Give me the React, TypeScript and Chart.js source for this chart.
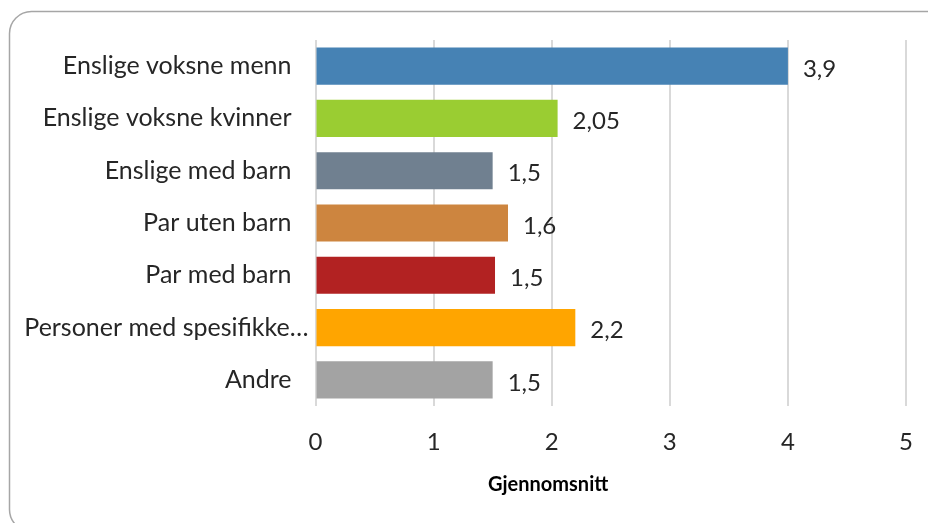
import React, { useEffect, useRef } from "react";
import { Chart, registerables } from "chart.js";

Chart.register(...registerables);

const categories = [
  "Enslige voksne menn",
  "Enslige voksne kvinner",
  "Enslige med barn",
  "Par uten barn",
  "Par med barn",
  "Personer med spesifikke…",
  "Andre",
];
const values = [4.0, 2.05, 1.5, 1.63, 1.52, 2.2, 1.5];
const valueLabels = ["3,9", "2,05", "1,5", "1,6", "1,5", "2,2", "1,5"];
const barColors = ["#4682B4", "#9ACD32", "#708090", "#CD853F", "#B22222", "#FFA500", "#A3A3A3"];
const xTicks = [0, 1, 2, 3, 4, 5];
const axisTitle = "Gjennomsnitt";

const FONT = "Lato, 'Open Sans', sans-serif";

export default function App() {
  const ref = useRef<HTMLCanvasElement | null>(null);
  useEffect(() => {
    document.body.style.margin = "0";
    const canvas = ref.current!;
    const framePlugin = {
      id: "frame",
      beforeDraw(chart: any) {
        const ctx = chart.ctx;
        ctx.save();
        ctx.fillStyle = "#ffffff";
        ctx.fillRect(0, 0, chart.width, chart.height);
        ctx.strokeStyle = "#a6a6a6";
        ctx.lineWidth = 1.5;
        ctx.beginPath();
        (ctx as any).roundRect(9.5, 11.5, 940, 520, 22);
        ctx.stroke();
        ctx.restore();
      },
    };
    const labelPlugin = {
      id: "valueLabels",
      afterDatasetsDraw(chart: any) {
        const ctx = chart.ctx;
        const meta = chart.getDatasetMeta(0);
        const area = chart.chartArea;
        const yScale = chart.scales.y;
        ctx.save();
        // category labels (truncated labels overhang slightly, as in the original)
        ctx.font = `25px ${FONT}`;
        ctx.fillStyle = "#262626";
        ctx.textAlign = "right";
        ctx.textBaseline = "middle";
        categories.forEach((c, i) => {
          const y = yScale.getPixelForTick(i);
          const x = c.endsWith("…") ? area.left - 7 : area.left - 24;
          ctx.fillText(c, x, y);
        });
        // value labels
        ctx.font = `24px ${FONT}`;
        ctx.textAlign = "left";
        meta.data.forEach((bar: any, i: number) => {
          ctx.fillText(valueLabels[i], bar.x + 15, bar.y + 3);
        });
        // axis title (offset to the left of the plot-area centre, as in the original)
        ctx.font = `bold 20px ${FONT}`;
        ctx.fillStyle = "#000000";
        ctx.textAlign = "center";
        ctx.fillText(axisTitle, area.left + (area.right - area.left) * 0.394, area.bottom + 79);
        ctx.restore();
      },
    };
    const chart = new Chart(canvas, {
      type: "bar",
      data: {
        labels: categories,
        datasets: [
          {
            data: values,
            backgroundColor: barColors,
            borderWidth: 0,
            categoryPercentage: 0.71,
            barPercentage: 1,
          },
        ],
      },
      options: {
        indexAxis: "y",
        responsive: false,
        animation: false,
        devicePixelRatio: 1,
        layout: { padding: { top: 40, right: 22, left: 10, bottom: 28 } },
        plugins: {
          legend: { display: false },
          tooltip: { enabled: false },
        },
        scales: {
          x: {
            min: 0,
            max: 5,
            afterBuildTicks(scale: any) {
              scale.ticks = xTicks.map((v) => ({ value: v }));
            },
            afterFit(scale: any) {
              scale.height = 523 - 28 - 406;
              scale.paddingLeft = 0;
              scale.paddingRight = 0;
            },
            grid: { color: "#d9d9d9", lineWidth: 2, drawTicks: false },
            border: { display: false },
            ticks: {
              color: "#262626",
              font: { family: FONT, size: 24 },
              padding: 22,
            },
          },
          y: {
            afterFit(scale: any) {
              scale.width = 315.5 - 10;
              scale.paddingTop = 0;
              scale.paddingBottom = 0;
            },
            grid: { display: false, drawTicks: false },
            border: { display: false },
            ticks: { display: false },
          },
        },
      },
      plugins: [framePlugin, labelPlugin],
    });
    return () => chart.destroy();
  }, []);
  return (
    <div style={{ position: "fixed", left: 0, top: 0, width: 928, height: 523, overflow: "hidden" }}>
      <canvas ref={ref} width={928} height={523} style={{ width: 928, height: 523, display: "block" }} />
    </div>
  );
}
